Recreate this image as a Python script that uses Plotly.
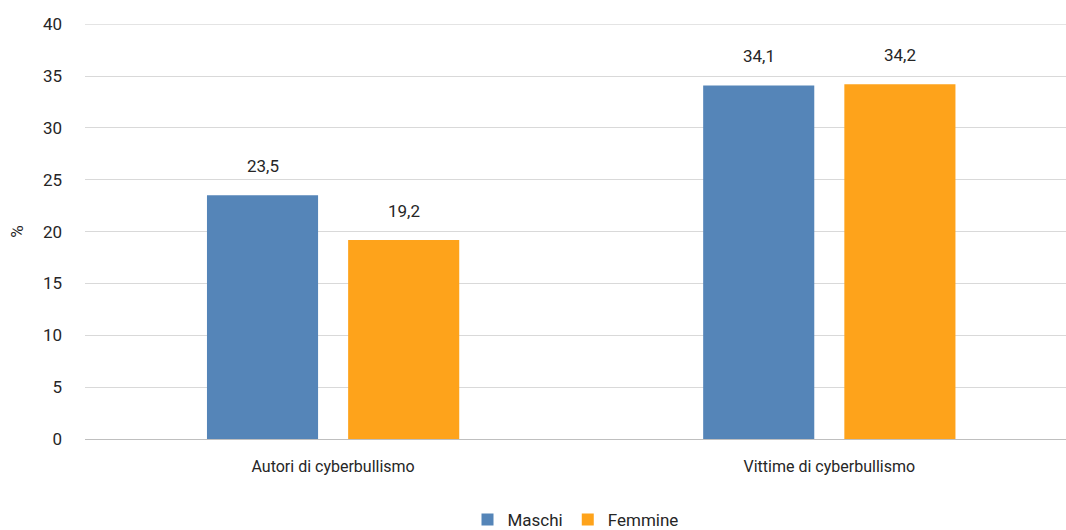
import plotly.graph_objects as go

categories = ["Autori di cyberbullismo", "Vittime di cyberbullismo"]
maschi = [23.5, 34.1]
femmine = [19.2, 34.2]
series_names = ["Maschi", "Femmine"]
y_ticks = [0, 5, 10, 15, 20, 25, 30, 35, 40]

BLUE = "#5585b8"
ORANGE = "#fea31b"
FONT = "Roboto, Arial"
TEXT_COLOR = "#262626"
GRID = "#d9d9d9"
SLOT_PX = 141  # px width of one bar slot inside a group

fig = go.Figure()
series = [(series_names[0], maschi, BLUE), (series_names[1], femmine, ORANGE)]
for i, (name, vals, col) in enumerate(series):
    fig.add_trace(go.Bar(
        x=categories, y=vals, name=name,
        marker=dict(color=col, line=dict(width=0)),
    ))
    shift = (i - 0.5) * SLOT_PX
    for cat, v in zip(categories, vals):
        fig.add_annotation(x=cat, y=v, text=f"{v:.1f}".replace(".", ","),
                           showarrow=False, xshift=shift, yshift=29,
                           yanchor="middle", font=dict(size=17, color=TEXT_COLOR))

# top gridline sits on the plot edge, draw it explicitly
fig.add_shape(type="line", xref="paper", x0=0, x1=1, yref="y", y0=y_ticks[-1], y1=y_ticks[-1],
              line=dict(color=GRID, width=1), layer="below")

fig.update_layout(
    width=1066, height=530,
    margin=dict(l=85, r=0, t=24, b=91, autoexpand=False),
    paper_bgcolor="white", plot_bgcolor="white",
    barmode="group", bargap=0.431, bargroupgap=0.213,
    font=dict(family=FONT, size=17, color=TEXT_COLOR),
    legend=dict(orientation="h", x=0.5, xanchor="center", y=-0.195, yanchor="middle",
                font=dict(size=17), tracegroupgap=0),
    hovermode=False,
)
fig.update_xaxes(range=[-0.5, 1.477], showgrid=False, ticks="", showline=False,
                 automargin=False, ticklabelstandoff=16, tickfont=dict(size=16))
fig.update_yaxes(range=[0, 40.02], tickvals=y_ticks, showgrid=True,
                 gridcolor=GRID, gridwidth=1,
                 zeroline=True, zerolinecolor="#bfbfbf", zerolinewidth=1,
                 ticks="", ticklabelstandoff=22, automargin=False,
                 title=dict(text="%", standoff=14, font=dict(size=17)),
                 tickfont=dict(size=17))

# drop the default page margin so the figure sits at the window's corner
fig.write_html("out.html", config={"displayModeBar": False},
               post_script="document.body.style.margin='0';")
